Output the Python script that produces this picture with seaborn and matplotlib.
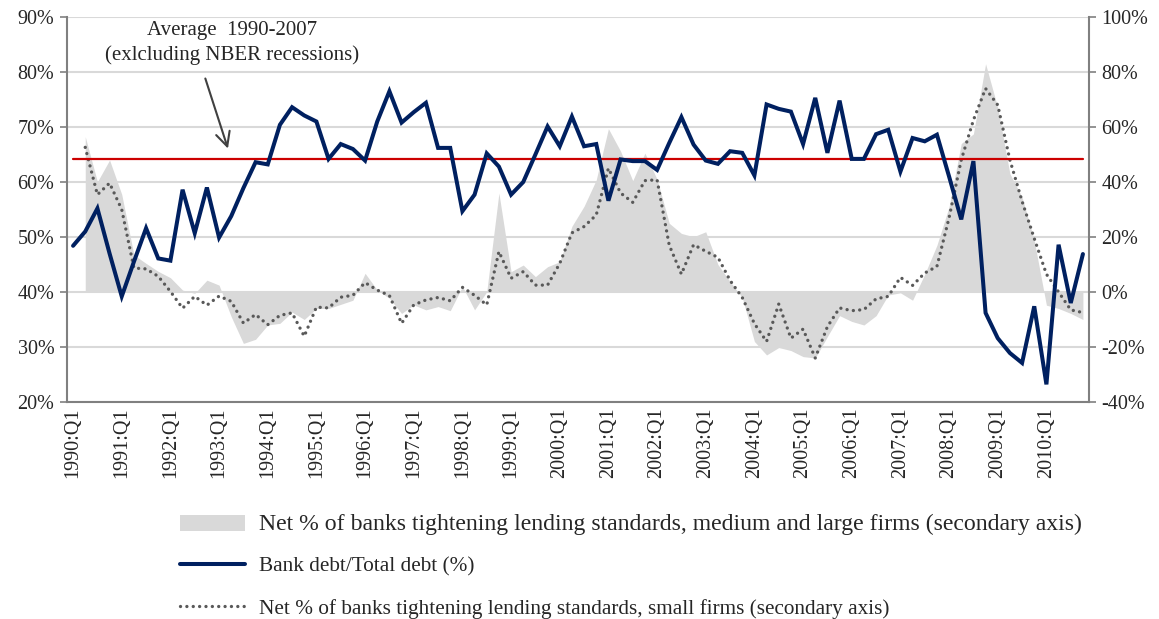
import numpy as np
import pandas as pd
import matplotlib
matplotlib.use("Agg")
import matplotlib.pyplot as plt
from matplotlib.ticker import FixedLocator
import seaborn as sns

# Quarterly data, 1990:Q1 - 2010:Q4 (84 quarters)
years = list(range(1990, 2011))
quarters = [f"{y}:Q{q}" for y in years for q in range(1, 5)]
tick_labels = [f"{y}:Q1" for y in years]

# Bank debt / total debt (%), left axis
bank_debt = [
    48.4, 51.0, 55.2, 47.0, 39.2, 45.5, 51.6, 46.1, 45.7, 58.6, 50.7, 59.0,
    49.9, 53.8, 58.9, 63.6, 63.2, 70.4, 73.6, 72.1, 71.0, 64.2, 66.9, 66.0,
    63.9, 71.0, 76.5, 70.8, 72.7, 74.4, 66.2, 66.2, 54.7, 57.7, 65.2, 62.8,
    57.7, 60.0, 65.0, 70.1, 66.5, 71.9, 66.5, 66.9, 56.6, 64.1, 63.8, 63.8,
    62.2, 67.1, 71.8, 66.8, 63.9, 63.3, 65.6, 65.3, 61.2, 74.1, 73.3, 72.8,
    66.9, 75.3, 65.3, 74.8, 64.2, 64.2, 68.7, 69.5, 61.9, 68.0, 67.4, 68.6,
    61.0, 53.2, 63.8, 36.2, 31.6, 28.9, 27.1, 37.4, 23.2, 48.6, 38.0, 46.9,
]

# Net % of banks tightening, medium and large firms (%), right axis
tight_large = [
    None, 56.5, 40.1, 48.0, 35.5, 13.5, 10.4, 7.5, 5.2, 0.7, -0.5, 4.3,
    2.5, -9.0, -18.7, -17.2, -12.0, -11.4, -7.3, -10.0, -6.0, -6.0, -4.5, -3.0,
    6.8, 0.7, -2.3, -7.8, -4.7, -6.5, -5.3, -6.8, 2.0, -6.5, 0.1, 36.0,
    7.4, 9.8, 5.6, 9.2, 11.0, 23.9, 31.2, 40.8, 59.4, 51.2, 40.5, 50.5,
    41.0, 25.0, 21.3, 20.1, 21.9, 10.0, 3.8, -2.0, -18.0, -22.9, -20.2, -21.3,
    -23.5, -24.0, -16.2, -8.6, -10.7, -12.0, -8.6, -1.1, -0.3, -3.0, 6.5, 17.0,
    31.0, 54.0, 57.5, 83.0, 67.0, 43.0, 34.5, 18.7, -4.8, -6.0, -7.8, -10.0,
]

# Net % of banks tightening, small firms (%), right axis
tight_small = [
    None, 52.6, 35.4, 39.6, 30.0, 8.7, 8.4, 5.7, 0.2, -5.9, -1.6, -4.8,
    -1.5, -3.4, -11.3, -8.2, -11.9, -8.5, -7.6, -16.1, -5.5, -5.8, -1.9, -1.2,
    3.4, 0.7, -1.3, -11.4, -4.7, -2.9, -2.0, -3.2, 1.7, -1.2, -4.7, 14.7,
    5.0, 7.4, 2.5, 2.5, 10.4, 21.5, 23.8, 28.0, 45.0, 36.0, 32.6, 40.5,
    40.8, 17.0, 6.5, 17.2, 14.8, 12.6, 4.2, -2.0, -11.5, -18.0, -4.4, -16.8,
    -13.5, -24.0, -12.6, -5.8, -6.8, -6.4, -2.5, -1.6, 5.3, 2.4, 6.9, 9.3,
    27.0, 48.0, 62.5, 74.0, 68.0, 48.0, 33.0, 19.5, 6.5, 0.0, -6.5, -7.5,
]

avg_1990_2007 = 64.2

LABEL_LARGE = "Net % of banks tightening lending standards, medium and large firms (secondary axis)"
LABEL_BANK = "Bank debt/Total debt (%)"
LABEL_SMALL = "Net % of banks tightening lending standards, small firms (secondary axis)"

df = pd.DataFrame({
    "pos": np.arange(len(quarters)),
    "quarter": quarters,
    "bank": bank_debt,
    "large": pd.to_numeric(pd.Series(tight_large), errors="coerce"),
    "small": pd.to_numeric(pd.Series(tight_small), errors="coerce"),
})
df["avg"] = avg_1990_2007
survey = df.dropna(subset=["large", "small"])

sns.set_style("white")
plt.rcParams["font.family"] = ["Liberation Serif", "DejaVu Serif"]
plt.rcParams["font.size"] = 14.5

fig, ax1 = plt.subplots(figsize=(11.59, 6.19), dpi=100)
fig.patch.set_facecolor("white")
fig.subplots_adjust(left=0.0578, right=0.9396, bottom=0.3506, top=0.9725)

ax2 = ax1.twinx()
ax1.set_zorder(ax2.get_zorder() + 1)
ax1.patch.set_visible(False)
ax2.patch.set_visible(True)
ax2.patch.set_facecolor("white")

# secondary axis: shaded area + dotted line
area = ax2.fill_between(survey["pos"], 0, survey["large"], color="#d9d9d9", lw=0,
                        label=LABEL_LARGE, zorder=1)
sns.lineplot(data=survey, x="pos", y="small", ax=ax2, color="#595959", lw=2.4,
             errorbar=None, legend=False, zorder=2)
dotted = ax2.lines[-1]
dotted.set_linestyle((0, (0.01, 1.9)))
dotted.set_dash_capstyle("round")
dotted.set_label(LABEL_SMALL)

# primary axis: average line + bank debt share
sns.lineplot(data=df, x="pos", y="avg", ax=ax1, color="#cc0000", lw=1.6,
             errorbar=None, legend=False)
sns.lineplot(data=df, x="pos", y="bank", ax=ax1, color="#002060", lw=2.9,
             errorbar=None, legend=False)
bank_line = ax1.lines[-1]
bank_line.set_label(LABEL_BANK)
bank_line.set_solid_joinstyle("miter")

# axes
ax1.set_xlim(-0.5, len(quarters) - 0.5)
ax1.set_ylim(20, 90)
ax2.set_ylim(-40, 100)
ax1.set_yticks(range(20, 91, 10))
ax1.set_yticklabels([f"{v}%" for v in range(20, 91, 10)])
ax2.set_yticks(range(-40, 101, 20))
ax2.set_yticklabels([f"{v}%" for v in range(-40, 101, 20)])
ax2.grid(axis="y", color="#d9d9d9", lw=1.5)
ax2.set_axisbelow(True)
ax1.grid(False)

major_pos = [quarters.index(t) for t in tick_labels]
ax1.xaxis.set_major_locator(FixedLocator(major_pos))
ax1.set_xticklabels(tick_labels, rotation=90)
ax1.xaxis.set_minor_locator(FixedLocator(np.arange(-0.5, len(quarters), 1.0)))
ax1.tick_params(axis="x", which="major", length=0, pad=4, labelsize=14.5)
ax1.tick_params(axis="x", which="minor", length=5, width=1.2, color="#808080", direction="out")
ax1.tick_params(axis="y", length=5, width=1.2, color="#808080", direction="out", pad=4, labelsize=14.5)
ax2.tick_params(axis="y", length=5, width=1.2, color="#808080", direction="out", pad=4, labelsize=14.5)
ax1.set_xlabel("")
ax1.set_ylabel("")
ax2.set_ylabel("")

for name, sp in ax1.spines.items():
    sp.set_visible(name in ("left", "bottom"))
    sp.set_color("#808080")
    sp.set_linewidth(1.5)
for name, sp in ax2.spines.items():
    sp.set_visible(name == "right")
    sp.set_color("#808080")
    sp.set_linewidth(1.5)

# annotation for the average line
ax1.text(13.1, 85.2, "Average  1990-2007\n(exlcluding NBER recessions)",
         ha="center", va="center", fontsize=15, linespacing=1.35)
ax1.annotate("", xy=(12.8, 65.6), xytext=(10.8, 79.3),
             arrowprops=dict(arrowstyle="->,head_length=0.7,head_width=0.35",
                             color="#404040", lw=1.5))

leg = fig.legend(handles=[area, bank_line, dotted],
                 labels=[LABEL_LARGE, LABEL_BANK, LABEL_SMALL],
                 loc="upper left", bbox_to_anchor=(180 / 1159, 1 - 514 / 619),
                 frameon=False, fontsize=15.3, handlelength=3.06, handleheight=0.8,
                 handletextpad=0.66, labelspacing=1.0, borderpad=0, borderaxespad=0)
# the first legend entry is set wider in the original
leg.get_texts()[0].set_fontsize(17.1)

fig.savefig("out.png", dpi=100, facecolor="white")
